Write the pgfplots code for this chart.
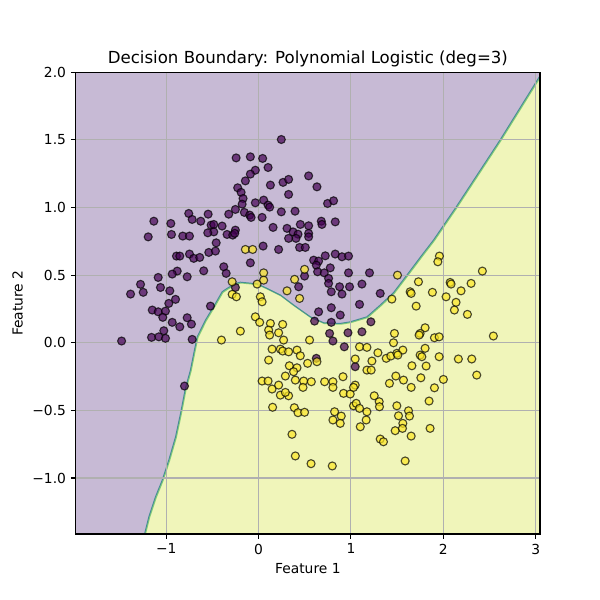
\documentclass[border=0pt]{standalone}
\usepackage{pgfplots}
\pgfplotsset{compat=1.18}
\usepackage{fontspec}
\setmainfont{DejaVu Sans}
\definecolor{regpurple}{RGB}{199,186,213}
\definecolor{regyellow}{RGB}{240,245,186}
\definecolor{vpurple}{HTML}{440154}
\definecolor{vyellow}{HTML}{FDE725}
\definecolor{edgeteal}{RGB}{70,140,150}
\definecolor{edgegreen}{RGB}{130,205,120}
\definecolor{gridgray}{RGB}{176,176,176}
\pgfplotstableread{
x y
-0.243 1.367
-0.089 1.375
0.044 1.363
0.103 1.296
-0.035 1.276
-0.089 1.247
-0.143 1.197
0.128 1.166
-0.226 1.146
-0.189 1.112
-0.168 1.067
-0.178 1.025
-0.035 1.035
0.055 1.055
0.103 1.018
-0.251 0.986
-0.323 0.951
-0.154 0.964
-0.096 0.944
-0.081 0.927
0.038 0.927
-0.756 0.956
-0.719 0.912
-0.546 0.951
-0.626 0.899
-0.950 0.882
-1.134 0.899
-0.514 0.870
-0.485 0.875
-0.395 0.863
-0.485 0.820
-0.550 0.813
-0.251 0.833
-0.341 0.801
-0.280 0.796
-0.258 0.809
0.157 0.853
-0.943 0.801
-0.821 0.789
-0.748 0.789
-1.195 0.783
-0.459 0.739
0.049 0.715
-0.539 0.668
-0.467 0.678
-0.748 0.656
-0.889 0.641
-0.853 0.641
-0.702 0.624
-0.637 0.631
-0.089 0.591
-0.377 0.562
-0.594 0.532
-0.351 0.513
-0.881 0.530
-0.935 0.508
-0.773 0.488
-1.087 0.483
-1.278 0.432
-1.062 0.409
-1.386 0.360
-1.249 0.373
-0.961 0.384
-0.899 0.321
-0.972 0.291
-1.151 0.242
-1.087 0.229
-1.008 0.234
-1.037 0.188
-0.773 0.185
-0.935 0.151
-0.727 0.138
-0.853 0.118
-1.026 0.089
-1.159 0.040
-1.080 0.044
-1.008 0.033
-0.719 0.025
-1.483 0.013
-0.521 0.271
-0.251 0.409
-0.802 -0.320
0.246 1.503
0.265 1.186
0.325 1.208
0.542 1.234
0.632 1.153
0.325 1.097
0.120 1.003
0.747 1.030
0.812 1.050
0.246 0.968
0.395 0.973
0.308 0.846
0.452 0.875
0.542 0.865
0.679 0.899
0.686 0.875
0.830 0.894
0.373 0.820
0.427 0.803
0.405 0.772
0.325 0.772
0.542 0.809
0.542 0.783
0.217 0.690
0.444 0.705
0.506 0.705
0.722 0.643
0.830 0.656
0.903 0.636
0.974 0.641
0.596 0.611
0.650 0.604
0.625 0.574
0.776 0.554
0.974 0.517
1.201 0.517
0.639 0.525
0.711 0.517
0.758 0.476
0.758 0.439
0.877 0.414
0.985 0.414
1.119 0.434
0.498 0.493
0.903 0.360
0.787 0.377
1.317 0.365
0.434 0.414
0.787 0.259
0.650 0.229
0.884 0.205
1.093 0.284
0.606 0.160
0.787 0.151
1.216 0.155
0.769 0.069
0.968 0.074
1.119 0.081
0.805 0.013
0.928 -0.030
0.625 -0.115
1.046 -0.177
}\classzero
\pgfplotstableread{
x y
-0.143 0.690
-0.064 0.690
0.055 0.517
-0.286 0.451
-0.016 0.434
0.055 0.463
-0.286 0.358
-0.240 0.340
0.019 0.340
0.038 0.303
-0.035 0.192
0.012 0.151
0.128 0.143
-0.197 0.086
0.109 0.094
0.120 0.057
-0.402 0.020
0.146 -0.047
0.109 -0.128
0.038 -0.283
0.103 -0.283
0.146 -0.342
0.498 0.543
0.390 0.469
1.504 0.500
0.308 0.384
0.444 0.328
0.261 0.136
0.217 0.074
0.271 0.020
0.552 0.020
0.236 -0.047
0.261 -0.061
0.325 -0.067
0.416 -0.054
0.452 -0.096
0.531 -0.152
0.632 -0.140
0.333 -0.170
0.416 -0.185
0.290 -0.246
0.379 -0.214
0.398 -0.276
0.488 -0.283
0.571 -0.288
0.217 -0.313
0.236 -0.387
0.325 -0.392
0.481 -0.330
0.715 -0.288
0.805 -0.288
0.805 -0.330
0.914 -0.251
0.920 -0.374
0.992 -0.379
1.046 -0.313
1.028 -0.330
1.046 -0.120
1.093 -0.030
1.173 -0.034
1.292 -0.074
1.382 -0.115
1.432 -0.098
1.497 -0.078
1.461 0.000
1.471 0.069
1.443 0.323
1.227 -0.135
1.173 -0.202
1.219 -0.202
1.486 -0.246
1.417 -0.300
1.252 -0.392
0.290 -0.367
1.306 -0.436
1.309 -0.473
1.497 -0.466
1.028 -0.466
1.057 -0.448
1.093 -0.485
1.173 -0.510
0.152 -0.477
0.387 -0.480
0.427 -0.517
0.498 -0.514
0.823 -0.510
0.895 -0.542
0.805 -0.571
0.884 -0.596
1.165 -0.571
1.101 -0.621
1.515 -0.540
1.479 -0.650
1.317 -0.712
1.352 -0.732
0.362 -0.677
0.398 -0.837
0.568 -0.894
0.798 -0.911
1.958 0.641
1.941 0.599
2.423 0.530
1.731 0.451
2.074 0.446
2.084 0.434
2.301 0.439
1.641 0.377
1.652 0.365
1.882 0.373
2.192 0.384
2.030 0.340
2.138 0.299
1.706 0.271
2.120 0.242
2.261 0.210
1.803 0.111
1.749 0.069
1.738 0.057
1.904 0.037
1.955 0.044
2.542 0.050
1.562 -0.054
1.508 -0.091
1.803 -0.041
1.749 -0.091
1.768 -0.103
1.955 -0.103
2.163 -0.120
2.308 -0.120
1.660 -0.170
1.814 -0.172
2.362 -0.239
1.569 -0.276
1.757 -0.259
1.652 -0.330
1.904 -0.333
2.001 -0.271
1.846 -0.431
1.623 -0.503
1.634 -0.542
1.562 -0.596
1.558 -0.633
1.857 -0.633
1.652 -0.690
1.587 -0.874
}\classone
\pgfplotstableread{
x y
-1.260 -1.600
-1.235 -1.414
-1.188 -1.286
-1.116 -1.138
-1.043 -1.015
-0.972 -0.867
-0.899 -0.695
-0.845 -0.522
-0.792 -0.335
-0.738 -0.202
-0.702 -0.078
-0.665 0.044
-0.575 0.168
-0.467 0.291
-0.395 0.377
-0.341 0.402
-0.251 0.439
-0.197 0.448
-0.016 0.436
0.092 0.402
0.236 0.353
0.379 0.279
0.560 0.192
0.704 0.148
0.884 0.143
0.992 0.155
1.173 0.192
1.317 0.279
1.460 0.370
1.605 0.500
1.768 0.648
1.893 0.759
2.128 0.993
2.614 1.499
3.039 1.966
3.200 2.150
}\boundary
\pgfplotstableread{
x y
-1.260 -1.600
-1.235 -1.414
-1.188 -1.286
-1.116 -1.138
-1.043 -1.015
-0.972 -0.867
-0.899 -0.695
-0.845 -0.522
-0.792 -0.335
-0.738 -0.202
-0.702 -0.078
-0.665 0.044
-0.575 0.168
-0.467 0.291
-0.395 0.377
-0.341 0.402
-0.251 0.439
-0.197 0.448
-0.016 0.436
0.092 0.402
0.236 0.353
0.379 0.279
0.560 0.192
0.704 0.148
0.884 0.143
0.992 0.155
1.173 0.192
1.317 0.279
1.460 0.370
1.605 0.500
1.768 0.648
1.893 0.759
2.128 0.993
2.614 1.499
3.039 1.966
3.200 2.150
3.200 -1.600
}\yellowregion
\begin{document}
\begin{tikzpicture}
\begin{axis}[
  at={(0.757in,0.66in)}, anchor=south west,
  scale only axis, width=4.643in, height=4.617in,
  xmin=-1.98, xmax=3.047, ymin=-1.414, ymax=2.0,
  axis on top,
  axis line style={line width=0.8pt, black},
  tick align=outside, tick pos=left,
  major tick length=3.5pt,
  every tick/.style={black, line width=0.8pt},
  xtick={-1,0,1,2,3}, xticklabels={−1,0,1,2,3},
  ytick={-1,-0.5,0,0.5,1,1.5,2},
  yticklabels={−1.0,−0.5,0.0,0.5,1.0,1.5,2.0},
  ticklabel style={font=\fontsize{10}{12}\selectfont},
  xlabel={Feature 1}, ylabel={Feature 2},
  label style={font=\fontsize{10}{12}\selectfont},
  title={Decision Boundary: Polynomial Logistic (deg=3)},
  title style={font=\fontsize{12}{14}\selectfont, at={(0.5,1)}, anchor=base},
  clip=true,
]
\addplot[fill=regpurple, draw=none]
  coordinates {(-2.2,-1.6) (3.2,-1.6) (3.2,2.2) (-2.2,2.2)} -- cycle;
\addplot[fill=regyellow, draw=none]
  table[x=x,y=y] {\yellowregion} -- cycle;
\addplot[draw=edgegreen, line width=0.9pt, xshift=0.5pt, yshift=-0.5pt]
  table[x=x,y=y] {\boundary};
\addplot[draw=edgeteal, line width=0.7pt]
  table[x=x,y=y] {\boundary};
\foreach \gx in {-1,0,1,2,3} {
  \edef\temp{\noexpand\draw[gridgray, line width=0.8pt] (axis cs:\gx,-1.6) -- (axis cs:\gx,2.2);}
  \temp
}
\foreach \gy in {-1,-0.5,0,0.5,1,1.5} {
  \edef\temp{\noexpand\draw[gridgray, line width=0.8pt] (axis cs:-2.2,\gy) -- (axis cs:3.2,\gy);}
  \temp
}
\addplot[only marks, mark=*, mark size=2.9pt,
  mark options={fill=vpurple, draw=black, fill opacity=0.7, draw opacity=0.7, line width=0.8pt}]
  table[x=x,y=y] {\classzero};
\addplot[only marks, mark=*, mark size=2.9pt,
  mark options={fill=vyellow, draw=black, fill opacity=0.7, draw opacity=0.7, line width=0.8pt}]
  table[x=x,y=y] {\classone};
\end{axis}
\path[use as bounding box] (0,0) rectangle (6in,6in);
\end{tikzpicture}
\end{document}
